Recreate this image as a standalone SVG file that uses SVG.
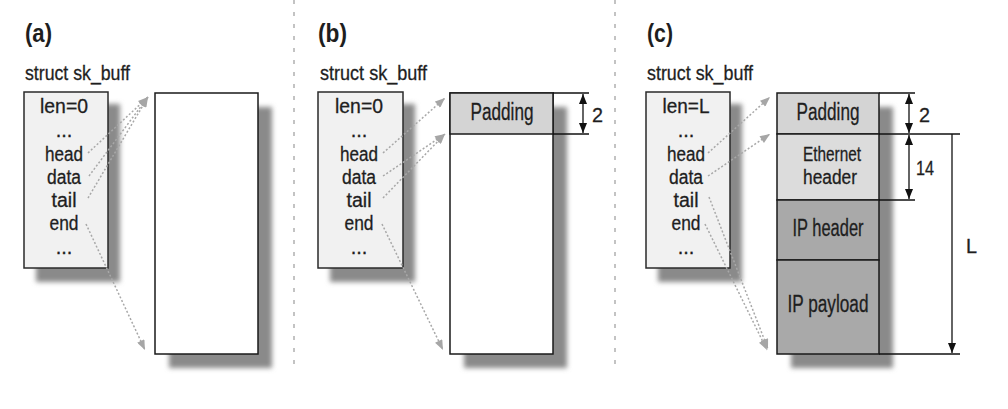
<svg xmlns="http://www.w3.org/2000/svg" width="1008" height="409" viewBox="0 0 1008 409">
<style>
text{font-family:"Liberation Sans","DejaVu Sans",sans-serif;fill:#1e1e1e;stroke:#1e1e1e;stroke-width:0.3}
.t{font-size:25px;font-weight:bold;stroke-width:0}
.s{font-size:21px}
.c{font-size:23px;text-anchor:middle}
.f{font-size:20px;text-anchor:middle}
.box{fill:#f1f1f1;stroke:#2a2a2a;stroke-width:1.5}
.buf{fill:#ffffff;stroke:#1a1a1a;stroke-width:1.5}
.sh{fill:#8a8a8a;filter:url(#blur)}
.div{stroke:#b0b0b0;stroke-width:1.5;stroke-dasharray:4 8;fill:none}
.ptr{stroke:#a8a8a8;stroke-width:1.5;stroke-dasharray:2 2;fill:none;marker-end:url(#ga)}
.dim{stroke:#111;stroke-width:1.3;fill:none}
.dd{stroke:#111;stroke-width:1.3;fill:none;marker-start:url(#ba);marker-end:url(#ba)}
.de{stroke:#111;stroke-width:1.3;fill:none;marker-end:url(#ba)}
</style>
<defs>
<filter id="blur" x="-20%" y="-20%" width="140%" height="140%"><feGaussianBlur stdDeviation="2.5"/></filter>
<marker id="ga" viewBox="0 0 10 8" refX="10" refY="4" markerWidth="11" markerHeight="8" markerUnits="userSpaceOnUse" orient="auto"><path d="M0,0 L10,4 L0,8 z" fill="#a6a6a6"/></marker>
<marker id="ba" viewBox="0 0 10 8" refX="10" refY="4" markerWidth="10" markerHeight="8" markerUnits="userSpaceOnUse" orient="auto-start-reverse"><path d="M0,0 L10,4 L0,8 z" fill="#111"/></marker>
</defs>
<rect width="1008" height="409" fill="#ffffff"/>
<g id="dividers">
<line class="div" x1="294" y1="0" x2="294" y2="365"/>
<line class="div" x1="615" y1="0" x2="615" y2="365"/>
</g>
<!-- Panel a -->
<g id="panel-a">
<text class="t" x="25" y="42" textLength="27" lengthAdjust="spacingAndGlyphs">(a)</text>
<text class="s" x="25" y="80" textLength="105" lengthAdjust="spacingAndGlyphs">struct sk_buff</text>
</g>
<g id="struct-a">
<rect class="sh" x="36" y="104" width="84" height="178"/>
<rect class="box" x="24" y="92" width="84" height="176"/>
<text class="f" x="64" y="113" textLength="48" lengthAdjust="spacingAndGlyphs">len=0</text>
<text class="f" x="64" y="137">...</text>
<text class="f" x="64" y="161" textLength="38" lengthAdjust="spacingAndGlyphs">head</text>
<text class="f" x="64" y="184" textLength="34" lengthAdjust="spacingAndGlyphs">data</text>
<text class="f" x="64" y="207" textLength="25" lengthAdjust="spacingAndGlyphs">tail</text>
<text class="f" x="64" y="230" textLength="29" lengthAdjust="spacingAndGlyphs">end</text>
<text class="f" x="64" y="254">...</text>
</g>
<g id="buffer-a">
<rect class="sh" x="169" y="107" width="103" height="261"/>
<rect class="buf" x="155" y="93" width="103" height="261"/>
</g>
<!-- Panel b -->
<g id="panel-b">
<text class="t" x="318" y="42" textLength="29" lengthAdjust="spacingAndGlyphs">(b)</text>
<text class="s" x="320" y="80" textLength="107" lengthAdjust="spacingAndGlyphs">struct sk_buff</text>
</g>
<g id="struct-b">
<rect class="sh" x="330" y="104" width="85" height="178"/>
<rect class="box" x="318" y="92" width="85" height="176"/>
<text class="f" x="359" y="113" textLength="48" lengthAdjust="spacingAndGlyphs">len=0</text>
<text class="f" x="359" y="137">...</text>
<text class="f" x="359" y="161" textLength="38" lengthAdjust="spacingAndGlyphs">head</text>
<text class="f" x="359" y="184" textLength="34" lengthAdjust="spacingAndGlyphs">data</text>
<text class="f" x="359" y="207" textLength="25" lengthAdjust="spacingAndGlyphs">tail</text>
<text class="f" x="359" y="230" textLength="29" lengthAdjust="spacingAndGlyphs">end</text>
<text class="f" x="359" y="254">...</text>
</g>
<g id="buffer-b">
<rect class="sh" x="464" y="107" width="103" height="261"/>
<rect class="buf" x="450" y="93" width="103" height="261"/>
<rect x="450" y="93" width="103" height="41" fill="#d4d4d4" stroke="#1a1a1a" stroke-width="1.5"/>
<text class="c" x="502" y="120" textLength="63" lengthAdjust="spacingAndGlyphs">Padding</text>
</g>
<g id="dim-b">
<line class="dim" x1="553" y1="93" x2="589" y2="93"/>
<line class="dim" x1="553" y1="134" x2="589" y2="134"/>
<line class="dd" x1="583" y1="94" x2="583" y2="133"/>
<text class="s" x="592" y="122" textLength="11" lengthAdjust="spacingAndGlyphs">2</text>
</g>
<!-- Panel c -->
<g id="panel-c">
<text class="t" x="647" y="42" textLength="26" lengthAdjust="spacingAndGlyphs">(c)</text>
<text class="s" x="647" y="80" textLength="106" lengthAdjust="spacingAndGlyphs">struct sk_buff</text>
</g>
<g id="struct-c">
<rect class="sh" x="658" y="104" width="84" height="178"/>
<rect class="box" x="646" y="92" width="84" height="176"/>
<text class="f" x="686" y="113" textLength="47" lengthAdjust="spacingAndGlyphs">len=L</text>
<text class="f" x="686" y="137">...</text>
<text class="f" x="686" y="161" textLength="38" lengthAdjust="spacingAndGlyphs">head</text>
<text class="f" x="686" y="184" textLength="34" lengthAdjust="spacingAndGlyphs">data</text>
<text class="f" x="686" y="207" textLength="25" lengthAdjust="spacingAndGlyphs">tail</text>
<text class="f" x="686" y="230" textLength="29" lengthAdjust="spacingAndGlyphs">end</text>
<text class="f" x="686" y="254">...</text>
</g>
<g id="buffer-c">
<rect class="sh" x="791" y="107" width="102" height="261"/>
<rect x="777" y="93" width="102" height="41" fill="#d4d4d4" stroke="#1a1a1a" stroke-width="1.5"/>
<rect x="777" y="134" width="102" height="66" fill="#dcdcdc" stroke="#1a1a1a" stroke-width="1.5"/>
<rect x="777" y="200" width="102" height="60" fill="#a9a9a9" stroke="#1a1a1a" stroke-width="1.5"/>
<rect x="777" y="260" width="102" height="94" fill="#a9a9a9" stroke="#1a1a1a" stroke-width="1.5"/>
<text class="c" x="828" y="120" textLength="63" lengthAdjust="spacingAndGlyphs">Padding</text>
<text class="f" x="832" y="161" textLength="58" lengthAdjust="spacingAndGlyphs">Ethernet</text>
<text class="f" x="830" y="184" textLength="54" lengthAdjust="spacingAndGlyphs">header</text>
<text class="c" x="828" y="236" textLength="71" lengthAdjust="spacingAndGlyphs">IP header</text>
<text class="c" x="828" y="312" textLength="81" lengthAdjust="spacingAndGlyphs">IP payload</text>
</g>
<g id="dim-c">
<line class="dim" x1="879" y1="93" x2="915" y2="93"/>
<line class="dim" x1="879" y1="134" x2="960" y2="134"/>
<line class="dim" x1="879" y1="200" x2="915" y2="200"/>
<line class="dim" x1="879" y1="354" x2="960" y2="354"/>
<line class="dd" x1="909" y1="94" x2="909" y2="133"/>
<line class="dd" x1="909" y1="135" x2="909" y2="199"/>
<line class="de" x1="952" y1="134" x2="952" y2="353"/>
<text class="s" x="919" y="122" textLength="11" lengthAdjust="spacingAndGlyphs">2</text>
<text class="s" x="916" y="175" textLength="18" lengthAdjust="spacingAndGlyphs">14</text>
<text class="s" x="966" y="253" textLength="11" lengthAdjust="spacingAndGlyphs">L</text>
</g>
<g id="connectors">
<path class="ptr" d="M88,153 L148,97"/>
<path class="ptr" d="M89,176 L148,97"/>
<path class="ptr" d="M88,198 L148,97"/>
<path class="ptr" d="M86,224 L145,350"/>
<path class="ptr" d="M383,153 L445,98"/>
<path class="ptr" d="M383,176 L445,134"/>
<path class="ptr" d="M383,198 L445,134"/>
<path class="ptr" d="M382,224 L443,350"/>
<path class="ptr" d="M708,153 L770,97"/>
<path class="ptr" d="M708,176 L770,134"/>
<path class="ptr" d="M709,197 L768,349"/>
<path class="ptr" d="M705,224 L767,350"/>
</g>
</svg>
